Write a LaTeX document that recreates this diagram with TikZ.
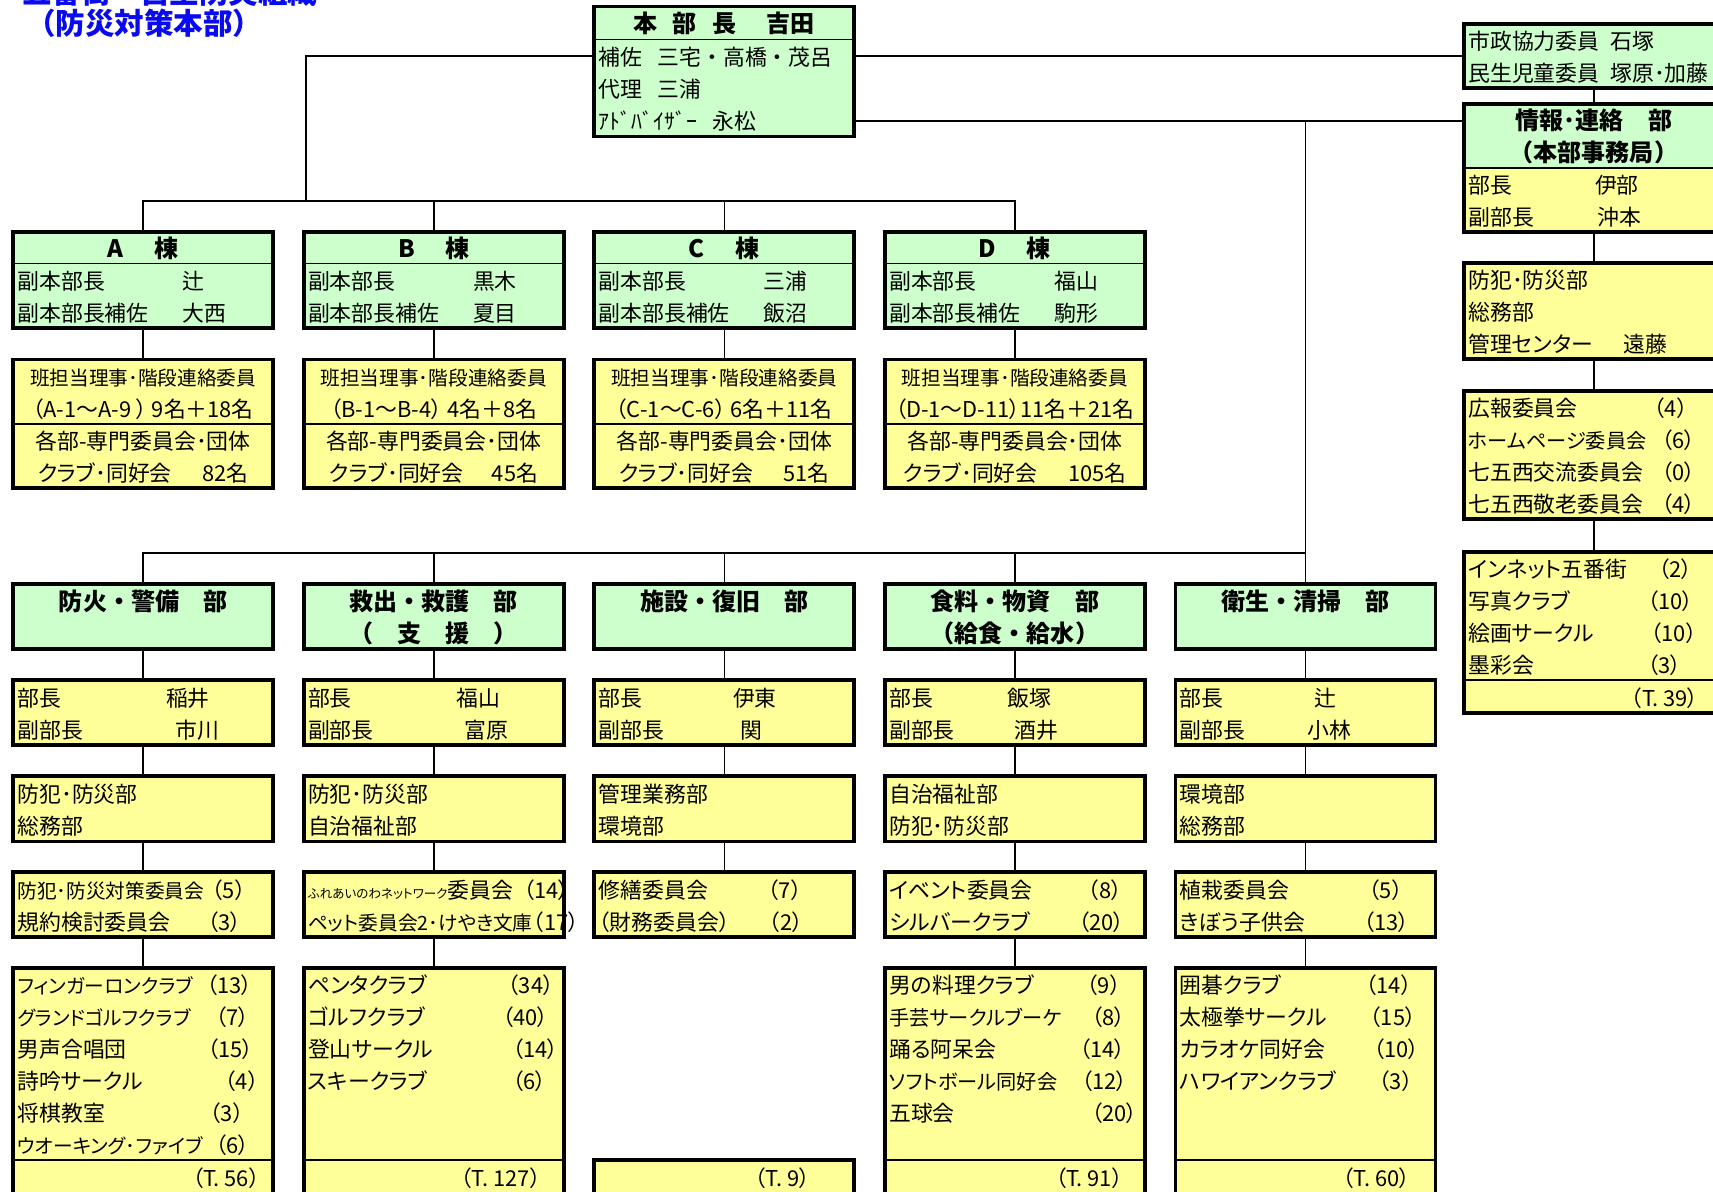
\documentclass[tikz,border=0pt]{standalone}
\usepackage{fontspec}
\setmainfont[RawFeature=+palt]{Noto Sans CJK JP}
\newfontfamily\ttlfont{Noto Sans CJK JP}
\usepackage{array}
\usepackage{tikz}
\definecolor{paleg}{HTML}{CCFFCC}
\definecolor{paley}{HTML}{FFFF99}
\definecolor{ttlblue}{HTML}{0A0AF0}
\newcommand\rowstrut{\rule[-5.8pt]{0pt}{29.3pt}}
\newcolumntype{L}{>{\rowstrut}p{230pt}}
\newcolumntype{C}{>{\centering\arraybackslash\rowstrut}p{230pt}}
\renewcommand\arraystretch{0.5}
\newcommand\rows[1]{\begin{tabular}{@{}L@{}}#1\end{tabular}}
\newcommand\mrows[1]{\begin{tabular}{@{}C@{}}#1\end{tabular}}
\newcommand\crows[1]{{\ttlfont\bfseries\fontsize{22}{29.3}\selectfont\mrows{#1}}}
\newcommand\nm[3]{\makebox[#1pt][l]{#2}#3}
\newcommand\shr[2]{{\fontsize{#1}{29.3}\selectfont #2}}
\tikzset{%
  part/.style={draw, line width=1.5pt, inner xsep=4pt, inner ysep=0pt, outer sep=0pt,
    anchor=north west, minimum width=238pt, font=\fontsize{20}{29.3}\selectfont},
  gpart/.style={part, fill=paleg},
  ypart/.style={part, fill=paley},
  gbox/.style={gpart, line width=3.5pt},
  ybox/.style={ypart, line width=3.5pt},
  rim/.style={line width=3.5pt},
  link/.style={line width=1.5pt}
}

\begin{document}
\begin{tikzpicture}[x=1pt, y=-1pt]
  \path[use as bounding box, fill=white] (0,0) rectangle (1568,1090.2);

  \node[anchor=base west, inner sep=0pt, text=ttlblue, font=\ttlfont\bfseries\fontsize{27}{30}\selectfont] (ttl) at (20,2.8) {五番街－自主防災組織};
  \node[anchor=base west, inner sep=0pt, text=ttlblue, font=\ttlfont\bfseries\fontsize{27}{30}\selectfont] (subttl) at (24,31.3) {（防災対策本部）};

  % head office
  \node[gpart, minimum height=30pt] (hq) at (544,6) {\crows{本\hspace{14pt}部\hspace{14pt}長\hspace{28pt}吉田}};
  \node[gpart, minimum height=89pt] (hqm) at (hq.south west) {\ttlfont\rows{補佐\hspace{14pt}三宅・高橋・茂呂\\ 代理\hspace{14pt}三浦\\ ｱﾄﾞﾊﾞｲｻﾞｰ\hspace{14pt}永松}};
  \draw[rim] (hq.north west) rectangle (hqm.south east);

  % right column
  \node[gbox, minimum height=58.6pt] (cty) at (1340,22) {\rows{市政協力委員\hspace{10pt}石塚\\ 民生児童委員\hspace{10pt}塚原･加藤}};
  \node[gpart, minimum height=58.6pt] (inf) at (1340,95) {\crows{情報･連絡　部\\ （本部事務局）}};
  \node[ypart, minimum height=58.6pt] (infm) at (inf.south west) {\rows{\nm{116}{部長}{伊部}\\ \nm{118}{副部長}{沖本}}};
  \draw[rim] (inf.north west) rectangle (infm.south east);
  \node[ybox, minimum height=87.9pt] (ofc) at (1340,241) {\rows{防犯･防災部\\ 総務部\\ \nm{142}{管理センター}{遠藤}}};
  \node[ybox, minimum height=117.2pt] (pr) at (1340,358) {\rows{\nm{170}{広報委員会}{（4）}\\ \nm{177}{\shr{18.5}{ホームページ委員会}}{（6）}\\ \nm{177}{七五西交流委員会}{（0）}\\ \nm{177}{七五西敬老委員会}{（4）}}};
  \node[ypart, minimum height=117.2pt] (grp) at (1340,505) {\rows{\nm{174}{インネット五番街}{（2）}\\ \nm{164}{写真クラブ}{（10）}\\ \nm{167}{絵画サークル}{（10）}\\ \nm{164}{墨彩会}{（3）}}};
  \node[ypart, minimum height=30.8pt] (grpt) at (grp.south west) {\rows{\nm{149}{}{（T. 39）}}};
  \draw[rim] (grp.north west) rectangle (grpt.south east);

  % buildings
  \node[gpart, minimum height=29.3pt] (bA) at (12,212) {\crows{A\hspace{28pt}棟}};
  \node[gpart, minimum height=59.3pt] (bAm) at (bA.south west) {\rows{\nm{151}{副本部長}{辻}\\ \nm{151}{副本部長補佐}{大西}}};
  \draw[rim] (bA.north west) rectangle (bAm.south east);
  \node[gpart, minimum height=29.3pt] (bB) at (278,212) {\crows{B\hspace{28pt}棟}};
  \node[gpart, minimum height=59.3pt] (bBm) at (bB.south west) {\rows{\nm{151}{副本部長}{黒木}\\ \nm{151}{副本部長補佐}{夏目}}};
  \draw[rim] (bB.north west) rectangle (bBm.south east);
  \node[gpart, minimum height=29.3pt] (bC) at (544,212) {\crows{C\hspace{28pt}棟}};
  \node[gpart, minimum height=59.3pt] (bCm) at (bC.south west) {\rows{\nm{151}{副本部長}{三浦}\\ \nm{151}{副本部長補佐}{飯沼}}};
  \draw[rim] (bC.north west) rectangle (bCm.south east);
  \node[gpart, minimum height=29.3pt] (bD) at (810,212) {\crows{D\hspace{28pt}棟}};
  \node[gpart, minimum height=59.3pt] (bDm) at (bD.south west) {\rows{\nm{151}{副本部長}{福山}\\ \nm{151}{副本部長補佐}{駒形}}};
  \draw[rim] (bD.north west) rectangle (bDm.south east);

  \node[ypart, minimum height=59pt] (iA) at (12,329) {\mrows{\shr{18}{班担当理事･階段連絡委員}\\ （A-1～A-9 ）\ 9名＋18名}};
  \node[ypart, minimum height=59pt] (iAm) at (iA.south west) {\mrows{各部-専門委員会･団体\\ クラブ･同好会\hspace{28pt}82名}};
  \draw[rim] (iA.north west) rectangle (iAm.south east);
  \node[ypart, minimum height=59pt] (iB) at (278,329) {\mrows{\shr{18}{班担当理事･階段連絡委員}\\ （B-1～B-4）\ 4名＋8名}};
  \node[ypart, minimum height=59pt] (iBm) at (iB.south west) {\mrows{各部-専門委員会･団体\\ クラブ･同好会\hspace{26pt}45名}};
  \draw[rim] (iB.north west) rectangle (iBm.south east);
  \node[ypart, minimum height=59pt] (iC) at (544,329) {\mrows{\shr{18}{班担当理事･階段連絡委員}\\ （C-1～C-6）\ 6名＋11名}};
  \node[ypart, minimum height=59pt] (iCm) at (iC.south west) {\mrows{各部-専門委員会･団体\\ クラブ･同好会\hspace{28pt}51名}};
  \draw[rim] (iC.north west) rectangle (iCm.south east);
  \node[ypart, minimum height=59pt] (iD) at (810,329) {\mrows{\shr{18}{班担当理事･階段連絡委員}\\ （D-1～D-11）11名＋21名}};
  \node[ypart, minimum height=59pt] (iDm) at (iD.south west) {\mrows{各部-専門委員会･団体\\ クラブ･同好会\hspace{28pt}105名}};
  \draw[rim] (iD.north west) rectangle (iDm.south east);

  % departments
  \node[gbox, minimum height=59.6pt] (dA) at (12,534.6) {\crows{防火・警備　部\\ \mbox{}}};
  \node[ybox, minimum height=59.6pt] (hA) at (12,622.4) {\rows{\nm{136}{部長}{稲井}\\ \nm{145}{副部長}{市川}}};
  \node[ybox, minimum height=59.6pt] (sA) at (12,710.6) {\rows{防犯･防災部\\ 総務部}};
  \node[ybox, minimum height=59.6pt] (cA) at (12,798.1) {\rows{\nm{178}{\shr{18}{防犯･防災対策委員会}}{（5）}\\ \nm{174}{規約検討委員会}{（3）}}};
  \node[ypart, minimum height=176pt] (kA) at (12,886) {\rows{\nm{173}{\shr{18}{フィンガーロンクラブ}}{（13）}\\ \nm{181}{\shr{18}{グランドゴルフクラブ}}{（7）}\\ \nm{174}{男声合唱団}{（15）}\\ \nm{190}{詩吟サークル}{（4）}\\ \nm{176}{将棋教室}{（3）}\\ \nm{181}{\shr{18}{ウオーキング･ファイブ}}{（6）}}};
  \node[ypart, minimum height=30.5pt] (tA) at (kA.south west) {\rows{\nm{160}{}{（T. 56）}}};
  \draw[rim] (kA.north west) rectangle (tA.south east);

  \node[gbox, minimum height=59.6pt] (dB) at (278,534.6) {\crows{救出・救護　部\\ （　支　援　）}};
  \node[ybox, minimum height=59.6pt] (hB) at (278,622.4) {\rows{\nm{136}{部長}{福山}\\ \nm{143}{副部長}{富原}}};
  \node[ybox, minimum height=59.6pt] (sB) at (278,710.6) {\rows{防犯･防災部\\ 自治福祉部}};
  \node[ybox, minimum height=59.6pt] (cB) at (278,798.1) {\rows{\nm{197}{\shr{11.5}{ふれあいのわネットワーク}委員会}{（14）}\\ \nm{206}{\shr{18}{ペット委員会2･けやき文庫}}{（17）}}};
  \node[ypart, minimum height=176pt] (kB) at (278,886) {\rows{\nm{183}{ペンタクラブ}{（34）}\\ \nm{178}{ゴルフクラブ}{（40）}\\ \nm{187}{登山サークル}{（14）}\\ \nm{187}{スキークラブ}{（6）}\\ \mbox{}\\ \mbox{}}};
  \node[ypart, minimum height=30.5pt] (tB) at (kB.south west) {\rows{\nm{140}{}{（T. 127）}}};
  \draw[rim] (kB.north west) rectangle (tB.south east);

  \node[gbox, minimum height=59.6pt] (dC) at (544,534.6) {\crows{施設・復旧　部\\ \mbox{}}};
  \node[ybox, minimum height=59.6pt] (hC) at (544,622.4) {\rows{\nm{123}{部長}{伊東}\\ \nm{130}{副部長}{関}}};
  \node[ybox, minimum height=59.6pt] (sC) at (544,710.6) {\rows{管理業務部\\ 環境部}};
  \node[ybox, minimum height=59.6pt] (cC) at (544,798.1) {\rows{\nm{155}{修繕委員会}{（7）}\\ \nm{156}{（財務委員会）}{（2）}}};
  \node[ybox, minimum height=30.5pt] (tC) at (544,1062) {\rows{\nm{143}{}{（T. 9）}}};

  \node[gbox, minimum height=59.6pt] (dD) at (810,534.6) {\crows{食料・物資　部\\ （給食・給水）}};
  \node[ybox, minimum height=59.6pt] (hD) at (810,622.4) {\rows{\nm{108}{部長}{飯塚}\\ \nm{115}{副部長}{酒井}}};
  \node[ybox, minimum height=59.6pt] (sD) at (810,710.6) {\rows{自治福祉部\\ 防犯･防災部}};
  \node[ybox, minimum height=59.6pt] (cD) at (810,798.1) {\rows{\nm{182}{イベント委員会}{（8）}\\ \nm{173}{シルバークラブ}{（20）}}};
  \node[ypart, minimum height=176pt] (kD) at (810,886) {\rows{\nm{181}{男の料理クラブ}{（9）}\\ \nm{185}{\shr{18.5}{手芸サークルブーケ}}{（8）}\\ \nm{174}{踊る阿呆会}{（14）}\\ \nm{176}{\shr{18.5}{ソフトボール同好会}}{（12）}\\ \nm{185}{五球会}{（20）}\\ \mbox{}}};
  \node[ypart, minimum height=30.5pt] (tD) at (kD.south west) {\rows{\nm{152}{}{（T. 91）}}};
  \draw[rim] (kD.north west) rectangle (tD.south east);

  \node[gbox, minimum height=59.6pt] (dE) at (1076,534.6) {\crows{衛生・清掃　部\\ \mbox{}}};
  \node[ybox, minimum height=59.6pt] (hE) at (1076,622.4) {\rows{\nm{123}{部長}{辻}\\ \nm{117}{副部長}{小林}}};
  \node[ybox, minimum height=59.6pt] (sE) at (1076,710.6) {\rows{環境部\\ 総務部}};
  \node[ybox, minimum height=59.6pt] (cE) at (1076,798.1) {\rows{\nm{173}{植栽委員会}{（5）}\\ \nm{168}{きぼう子供会}{（13）}}};
  \node[ypart, minimum height=176pt] (kE) at (1076,886) {\rows{\nm{170}{囲碁クラブ}{（14）}\\ \nm{174}{太極拳サークル}{（15）}\\ \nm{177}{カラオケ同好会}{（10）}\\ \nm{182}{ハワイアンクラブ}{（3）}\\ \mbox{}\\ \mbox{}}};
  \node[ypart, minimum height=30.5pt] (tE) at (kE.south west) {\rows{\nm{149}{}{（T. 60）}}};
  \draw[rim] (kE.north west) rectangle (tE.south east);

  % connectors
  \coordinate (hub) at (280,184);
  \coordinate (jr) at (1195,111);
  \coordinate (bus) at (1195,506);
  \draw[link] (hqm.west |- cty.west) -| (hub);
  \draw[link] (bA.north) |- (hub) -| (bD.north);
  \draw[link] (bB.north) -- (bB.north |- hub);
  \draw[link] (bC.north) -- (bC.north |- hub);
  \foreach \c in {A,B,C,D} \draw[link] (b\c m.south) -- (i\c.north);
  \draw[link] (cty.west) -- (cty.west -| hqm.east);
  \draw[link] (hqm.east |- jr) -- (inf.west |- jr);
  \draw[link] (jr) -- (bus) -| (dA.north);
  \foreach \c in {B,C,D,E} \draw[link] (d\c.north) -- (d\c.north |- bus);
  \foreach \c in {A,B,C,D,E} {
    \draw[link] (d\c.south) -- (h\c.north);
    \draw[link] (h\c.south) -- (s\c.north);
    \draw[link] (s\c.south) -- (c\c.north);
  }
  \foreach \c in {A,B,D,E} \draw[link] (c\c.south) -- (k\c.north);
  \draw[link] (cty.south) -- (inf.north);
  \draw[link] (infm.south) -- (ofc.north);
  \draw[link] (ofc.south) -- (pr.north);
  \draw[link] (pr.south) -- (grp.north);
\end{tikzpicture}
\end{document}
